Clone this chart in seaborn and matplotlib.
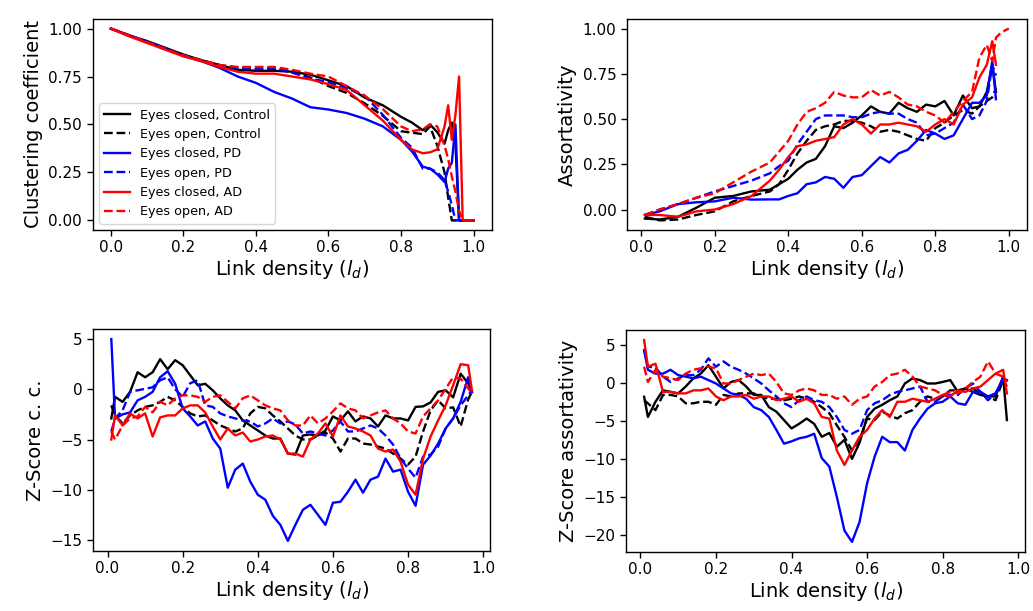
import numpy as np
import matplotlib
matplotlib.use("Agg")
import matplotlib.pyplot as plt
import seaborn as sns

nan = np.nan

# ---------------- data ----------------
labels = ["Eyes closed, Control", "Eyes open, Control", "Eyes closed, PD",
          "Eyes open, PD", "Eyes closed, AD", "Eyes open, AD"]

# Panel 1: clustering coefficient
x_cc = [0.00, 0.05, 0.10, 0.15, 0.20, 0.25, 0.30, 0.35, 0.40, 0.45, 0.50, 0.55, 0.60, 0.65,
        0.70, 0.75, 0.80, 0.83, 0.86, 0.88, 0.90, 0.92, 0.93, 0.94, 0.95, 0.96, 0.97, 1.00]
cc_ec_ctrl = [1.0, 0.965, 0.935, 0.9, 0.865, 0.835, 0.81, 0.785, 0.78, 0.78, 0.775, 0.76, 0.73, 0.70,
              0.64, 0.60, 0.54, 0.51, 0.47, 0.50, 0.46, 0.40, 0.47, 0.51, 0.40, 0.0, 0.0, 0.0]
cc_eo_ctrl = [1.0, 0.965, 0.93, 0.895, 0.86, 0.835, 0.81, 0.795, 0.787, 0.787, 0.775, 0.745, 0.70, 0.665,
              0.61, 0.545, 0.465, 0.457, 0.45, 0.49, 0.39, 0.25, 0.12, 0.0, 0.0, 0.0, 0.0, 0.0]
cc_ec_pd = [1.0, 0.965, 0.93, 0.895, 0.86, 0.83, 0.795, 0.75, 0.717, 0.67, 0.635, 0.59, 0.578, 0.56,
            0.53, 0.49, 0.42, 0.36, 0.28, 0.27, 0.24, 0.20, 0.27, 0.30, 0.50, 0.0, 0.0, 0.0]
cc_eo_pd = [1.0, 0.965, 0.93, 0.895, 0.86, 0.83, 0.805, 0.795, 0.787, 0.795, 0.77, 0.74, 0.72, 0.69,
            0.65, 0.55, 0.43, 0.38, 0.27, 0.27, 0.25, 0.21, 0.15, 0.08, 0.0, 0.0, 0.0, 0.0]
cc_ec_ad = [1.0, 0.96, 0.925, 0.89, 0.855, 0.83, 0.80, 0.775, 0.765, 0.765, 0.75, 0.735, 0.71, 0.68,
            0.60, 0.52, 0.42, 0.37, 0.35, 0.355, 0.37, 0.49, 0.60, 0.42, 0.55, 0.75, 0.0, 0.0]
cc_eo_ad = [1.0, 0.965, 0.93, 0.895, 0.86, 0.835, 0.81, 0.80, 0.80, 0.80, 0.785, 0.765, 0.75, 0.70,
            0.65, 0.58, 0.49, 0.465, 0.475, 0.50, 0.49, 0.39, 0.32, 0.23, 0.15, 0.05, 0.0, 0.0]

# Panel 2: assortativity
x_as = [0.01, 0.05, 0.10, 0.15, 0.20, 0.25, 0.30,
        0.35, 0.375, 0.40, 0.425, 0.45, 0.475, 0.50, 0.525, 0.55, 0.575, 0.60, 0.625,
        0.65, 0.675, 0.70, 0.725, 0.75, 0.775, 0.80, 0.825, 0.85, 0.875, 0.90,
        0.92, 0.94, 0.955, 0.965, 0.98, 1.00]
as_ec_ctrl = [-0.05, -0.055, -0.04, 0.01, 0.065, 0.075, 0.10,
              0.11, 0.14, 0.17, 0.22, 0.26, 0.28, 0.35, 0.46, 0.45, 0.48, 0.52, 0.57,
              0.54, 0.53, 0.59, 0.56, 0.54, 0.58, 0.57, 0.60, 0.52, 0.63, 0.56,
              0.57, 0.65, 0.80, 0.65, nan, nan]
as_eo_ctrl = [-0.04, -0.06, -0.055, -0.03, -0.01, 0.045, 0.075,
              0.10, 0.14, 0.22, 0.31, 0.38, 0.44, 0.46, 0.47, 0.49, 0.49, 0.48, 0.46,
              0.43, 0.44, 0.43, 0.41, 0.39, 0.38, 0.45, 0.48, 0.52, 0.55, 0.53,
              0.57, 0.60, 0.62, 0.67, nan, nan]
as_ec_pd = [-0.03, -0.01, 0.03, 0.04, 0.045, 0.065, 0.055,
            0.056, 0.056, 0.075, 0.09, 0.14, 0.15, 0.18, 0.17, 0.12, 0.18, 0.19, 0.24,
            0.29, 0.26, 0.31, 0.33, 0.38, 0.44, 0.42, 0.39, 0.41, 0.50, 0.59,
            0.59, 0.63, 0.82, 0.61, nan, nan]
as_eo_pd = [-0.03, 0.0, 0.03, 0.065, 0.10, 0.13, 0.16,
            0.20, 0.24, 0.27, 0.36, 0.43, 0.50, 0.52, 0.52, 0.52, 0.51, 0.51, 0.53,
            0.54, 0.53, 0.53, 0.50, 0.48, 0.41, 0.42, 0.45, 0.48, 0.58, 0.50,
            0.52, 0.60, 0.80, 0.74, nan, nan]
as_ec_ad = [-0.03, -0.03, -0.04, -0.01, 0.0, 0.03, 0.075,
            0.16, 0.22, 0.29, 0.35, 0.36, 0.38, 0.39, 0.40, 0.47, 0.50, 0.47, 0.42,
            0.47, 0.47, 0.48, 0.47, 0.46, 0.43, 0.47, 0.50, 0.47, 0.58, 0.62,
            0.73, 0.80, 0.93, 0.80, nan, nan]
as_eo_ad = [-0.03, 0.0, 0.03, 0.065, 0.09, 0.15, 0.21,
            0.26, 0.32, 0.38, 0.47, 0.54, 0.56, 0.59, 0.65, 0.63, 0.62, 0.62, 0.66,
            0.63, 0.65, 0.62, 0.58, 0.57, 0.54, 0.52, 0.48, 0.54, 0.60, 0.65,
            0.84, 0.91, 0.82, 0.95, 0.98, 1.0]

# Panels 3 & 4: z-scores
x_z = [0.01] + [round(0.02 * i, 2) for i in range(1, 49)] + [0.97]

zc_ec_ctrl = [-2.9, -0.75, -1.25, -0.25, 1.7, 1.2, 1.7, 3.0, 2.0, 2.9,
              2.4, 1.4, 0.4, 0.55, -0.1, -0.9, -1.6, -2.1, -3.1, -3.6,
              -4.1, -4.6, -4.9, -4.9, -6.4, -6.5, -4.6, -4.5, -4.6, -4.1,
              -2.7, -3.1, -2.2, -3.2, -2.7, -2.9, -3.7, -2.6, -2.9, -2.9,
              -3.1, -1.75, -1.7, -1.3, -0.25, -0.1, -0.8, 1.55, 0.6, -0.25]
zc_eo_ctrl = [-1.6, -2.6, -3.4, -2.6, -2.1, -1.75, -1.6, -1.25, -0.75, -1.1,
              -1.75, -2.4, -2.7, -2.6, -3.1, -3.6, -3.9, -4.2, -3.9, -2.4,
              -1.75, -1.9, -2.6, -3.2, -3.9, -4.6, -5.0, -5.0, -4.6, -4.3,
              -4.9, -6.2, -4.9, -4.9, -5.4, -5.5, -5.7, -5.9, -6.4, -6.9,
              -7.5, -6.7, -4.2, -2.1, -1.1, -1.9, -1.8, -3.7, -1.0, -0.25]
zc_ec_pd = [5.0, -2.9, -2.5, -2.3, -1.1, -0.75, -0.25, 1.2, 1.8, 0.55,
            -1.9, -2.7, -3.6, -3.2, -4.9, -5.9, -9.8, -8.0, -7.4, -9.2,
            -10.5, -11.0, -12.6, -13.5, -15.1, -13.5, -12.0, -11.5, -12.5, -13.5,
            -11.3, -11.2, -10.2, -9.0, -10.3, -9.0, -8.7, -6.9, -8.2, -8.0,
            -10.2, -11.6, -7.5, -6.6, -5.4, -3.9, -2.9, -1.25, 1.2, -0.3]
zc_eo_pd = [-4.2, -2.9, -2.1, -0.25, -0.1, 0.05, 0.2, 0.9, 1.2, 0.0,
            -0.75, 0.6, 0.9, -1.6, -1.75, -2.4, -2.7, -2.9, -3.1, -3.2,
            -3.7, -3.4, -2.9, -3.4, -3.2, -3.5, -4.4, -4.2, -4.4, -4.6,
            -4.1, -3.2, -4.2, -4.2, -3.9, -3.6, -3.9, -4.6, -5.5, -6.9,
            -7.9, -8.8, -6.7, -6.5, -5.7, -3.9, -2.9, -1.6, -0.6, -0.1]
zc_ec_ad = [-5.0, -2.6, -3.6, -2.4, -2.9, -2.4, -4.7, -2.8, -2.6, -2.6,
            -1.9, -1.6, -1.6, -2.3, -3.7, -5.0, -3.9, -4.6, -4.3, -5.2,
            -5.0, -4.7, -4.6, -5.0, -6.4, -6.4, -6.7, -5.0, -4.4, -3.4,
            -4.7, -2.6, -3.7, -3.9, -4.2, -4.6, -5.9, -6.2, -6.0, -7.2,
            -9.5, -10.5, -6.9, -4.7, -3.1, -1.6, 0.4, 2.5, 2.4, -0.1]
zc_eo_ad = [-4.2, -5.0, -3.6, -2.9, -2.7, -1.75, -2.3, -1.25, -1.6, -0.9,
            -0.6, -0.6, -0.75, -1.25, -0.75, -0.6, -1.25, -1.9, -0.9, -0.6,
            -1.1, -1.6, -1.9, -2.1, -3.1, -3.6, -3.6, -2.6, -3.4, -2.9,
            -2.2, -1.4, -1.9, -2.1, -2.9, -2.6, -2.3, -2.1, -2.9, -3.4,
            -4.2, -4.4, -2.7, -1.9, -1.1, 0.05, 1.2, 1.05, 0.1, -0.4]

za_ec_ctrl = [-1.85, -4.5, -2.5, -1.0, -1.2, -1.4, -0.5, 0.57, 1.2, 2.3,
              0.8, -0.75, 0.1, 0.35, -0.5, -1.6, -1.6, -3.2, -3.8, -4.9,
              -6.0, -5.4, -4.7, -5.4, -7.1, -6.6, -8.4, -7.5, -10.0, -7.9,
              -4.5, -3.4, -2.9, -2.3, -1.8, -0.1, 0.57, 0.35, -0.1, -0.1,
              0.1, 0.35, -1.2, -0.75, -1.2, -1.6, -1.8, -1.8, 0.8, -4.9]
za_eo_ctrl = [-2.3, -2.7, -3.6, -1.6, -1.6, -1.8, -2.7, -2.7, -2.5, -2.5,
              -2.9, -1.6, -1.8, -1.4, -1.4, -1.4, -1.8, -2.1, -2.1, -2.3,
              -2.1, -1.8, -2.1, -2.5, -3.2, -4.0, -5.6, -7.1, -8.9, -7.5,
              -4.7, -4.9, -3.8, -4.3, -4.7, -4.0, -3.6, -2.5, -1.8, -2.1,
              -1.8, -1.0, -1.0, -0.75, -0.75, -1.4, -1.8, -2.3, 0.35, -0.5]
za_ec_pd = [4.3, 1.7, 1.2, 1.2, 1.7, 1.0, 0.8, 0.57, 0.8, 0.35,
            -0.1, -0.75, -1.4, -1.6, -2.1, -3.2, -3.6, -4.5, -6.2, -8.0,
            -7.7, -7.3, -7.1, -6.7, -9.9, -11.0, -15.0, -19.4, -20.9, -18.3,
            -13.2, -9.7, -7.1, -7.8, -7.8, -8.9, -6.2, -4.7, -3.4, -2.7,
            -2.5, -1.8, -2.7, -2.9, -1.2, -1.2, -1.8, -1.4, 0.57, 0.35]
za_eo_pd = [4.3, 2.1, 2.0, 0.8, 0.1, 0.57, 1.0, 1.0, 1.7, 3.2,
            2.1, 2.8, 2.1, 1.7, 1.2, 0.57, -0.1, -1.0, -1.8, -2.7,
            -3.2, -2.3, -1.8, -2.3, -2.5, -3.2, -4.5, -6.2, -6.7, -6.2,
            -3.6, -2.7, -2.3, -1.6, -1.2, -1.0, -0.75, -0.5, -2.5, -2.5,
            -1.8, -1.6, -1.6, -0.75, -0.1, -1.2, -2.3, -1.4, 0.35, 0.35]
za_ec_ad = [5.6, 2.1, 2.5, -1.2, -1.2, -1.4, -1.4, -1.0, -1.0, -0.75,
            -1.8, -2.3, -1.8, -1.8, -1.6, -2.1, -1.8, -1.8, -2.3, -2.1,
            -1.8, -2.5, -2.1, -2.7, -4.5, -4.7, -8.9, -10.8, -8.9, -7.1,
            -6.2, -4.7, -3.6, -4.5, -2.5, -2.5, -2.1, -2.3, -2.5, -2.1,
            -1.6, -1.8, -1.0, -1.2, -0.75, -0.5, 0.35, 1.2, 1.7, -1.4]
za_eo_ad = [2.1, 0.1, 1.7, 0.8, 0.6, 0.35, 1.2, 1.7, 1.9, 2.1,
            1.9, -0.1, -0.1, 0.35, 0.8, 1.2, 1.0, 1.2, 0.1, -1.4,
            -1.6, -1.0, -0.75, -1.0, -1.6, -1.6, -2.1, -1.8, -2.9, -2.1,
            -1.8, -0.5, 0.1, 1.0, 1.2, 1.7, 0.8, -0.5, -0.75, -1.0,
            -1.6, -1.2, -1.4, -0.75, 0.1, 0.8, 2.8, 1.2, 0.8, 0.1]

colors = ["black", "black", "blue", "blue", "red", "red"]
styles = ["-", "--", "-", "--", "-", "--"]

panels = [
    (x_cc, [cc_ec_ctrl, cc_eo_ctrl, cc_ec_pd, cc_eo_pd, cc_ec_ad, cc_eo_ad], "Clustering coefficient",
     [0, 0.25, 0.5, 0.75, 1.0]),
    (x_as, [as_ec_ctrl, as_eo_ctrl, as_ec_pd, as_eo_pd, as_ec_ad, as_eo_ad], "Assortativity",
     [0, 0.25, 0.5, 0.75, 1.0]),
    (x_z, [zc_ec_ctrl, zc_eo_ctrl, zc_ec_pd, zc_eo_pd, zc_ec_ad, zc_eo_ad], "Z-Score c. c.",
     [-15, -10, -5, 0, 5]),
    (x_z, [za_ec_ctrl, za_eo_ctrl, za_ec_pd, za_eo_pd, za_ec_ad, za_eo_ad], "Z-Score assortativity",
     [-20, -15, -10, -5, 0, 5]),
]

positions = [
    [0.0897, 0.6236, 0.3863, 0.3453],
    [0.6067, 0.6236, 0.3875, 0.3453],
    [0.0903, 0.0982, 0.3840, 0.3633],
    [0.6060, 0.0966, 0.3863, 0.3633],
]

plt.rcParams["font.family"] = ["DejaVu Sans"]
plt.rcParams["axes.linewidth"] = 1.0

fig = plt.figure(figsize=(10.33, 6.11), dpi=100)

for i, (xs, series, ylab, yt) in enumerate(panels):
    ax = fig.add_axes(positions[i])
    for s, lab, c, ls in zip(series, labels, colors, styles):
        sns.lineplot(x=xs, y=s, ax=ax, color=c, linestyle=ls, linewidth=1.7,
                     label=lab if i == 0 else None, legend=(i == 0),
                     estimator=None, sort=False)
    ax.set_yticks(yt)
    if i < 2:
        ax.set_yticklabels([f"{v:.2f}" for v in yt])
    ax.set_xticks([0.0, 0.2, 0.4, 0.6, 0.8, 1.0])
    ax.set_xticklabels(["0.0", "0.2", "0.4", "0.6", "0.8", "1.0"])
    ax.tick_params(labelsize=11, width=1.0, length=4)
    ax.set_xlabel("Link density ($l_d$)", fontsize=14, labelpad=2)
    ax.set_ylabel(ylab, fontsize=14, labelpad=4)
    if i == 0:
        ax.legend(loc="lower left", fontsize=9.2, framealpha=0.8, handlelength=2.0)

fig.savefig("out.png", dpi=100)
